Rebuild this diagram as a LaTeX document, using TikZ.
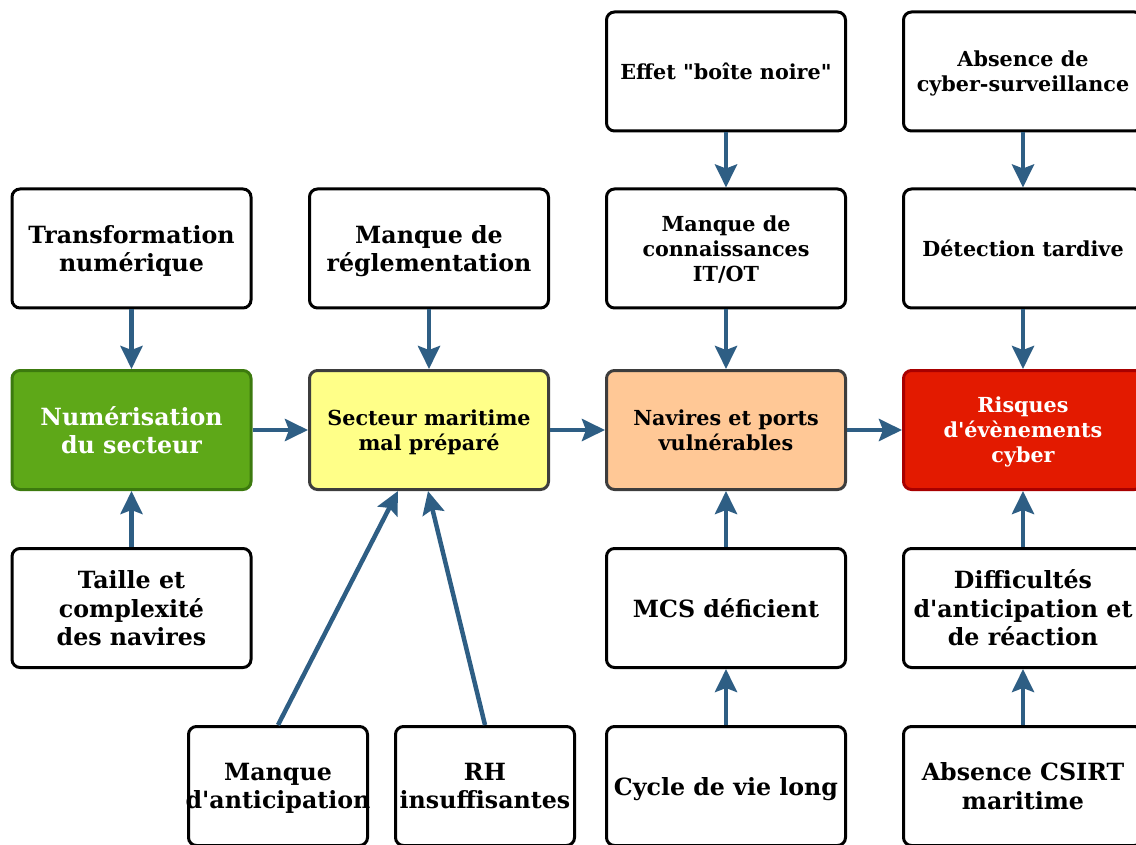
\documentclass[tikz,border=0pt]{standalone}
\usepackage{fontspec}
% TeX ligatures off: straight quotes and apostrophes stay straight
\setmainfont{DejaVu Serif}[Ligatures=TeXOff]
\usetikzlibrary{arrows.meta}

\definecolor{arrowblue}{HTML}{2E5E84}
\definecolor{greenfill}{HTML}{5EA818}
\definecolor{greenline}{HTML}{3C7A0E}
\definecolor{yellowfill}{HTML}{FFFF88}
\definecolor{peachfill}{HTML}{FFC896}
\definecolor{darkline}{HTML}{3D3D3D}
\definecolor{redfill}{HTML}{E31A00}
\definecolor{redline}{HTML}{A80000}

\newcommand{\bigtxt}{\fontsize{23.7}{28.5}\selectfont\bfseries}
\newcommand{\smalltxt}{\fontsize{20.7}{25}\selectfont\bfseries}

\tikzset{
  box/.style={draw=black, fill=white, line width=3pt, rounded corners=8pt,
    minimum width=239pt, minimum height=119pt, align=center, inner sep=0pt,
    text depth=0pt, text=black},
  narrowbox/.style={box, minimum width=179pt},
  bigtext/.style={font=\bigtxt},
  smalltext/.style={font=\smalltxt},
  greenbox/.style={box, fill=greenfill, draw=greenline, text=white},
  yellowbox/.style={box, fill=yellowfill, draw=darkline},
  peachbox/.style={box, fill=peachfill, draw=darkline},
  redbox/.style={box, fill=redfill, draw=redline, text=white},
  flow/.style={draw=arrowblue, line width=4.5pt,
    -{Stealth[length=23pt, width=22pt, inset=4pt]}},
}

\begin{document}
\begin{tikzpicture}[x=1pt, y=-1pt]
  \useasboundingbox (0,0) rectangle (1136,845);

  % main chain
  \node[greenbox, bigtext]    (num) at (131.5,430) {Numérisation\\du secteur};
  \node[yellowbox, smalltext] (sec) at (429,430)   {Secteur maritime\\mal préparé};
  \node[peachbox, smalltext]  (nav) at (726,430)   {Navires et ports\\vulnérables};
  \node[redbox, smalltext]    (ris) at (1023,430)  {Risques\\d'évènements\\cyber};

  % column 1
  \node[box, bigtext] (tra) at (131.5,248.5) {Transformation\\numérique};
  \node[box, bigtext] (tai) at (131.5,608)   {Taille et\\complexité\\des navires};

  % column 2 (the long word spills over both sides of its narrow box)
  \node[box, bigtext]       (reg) at (429,248.5) {Manque de\\réglementation};
  \node[narrowbox, bigtext] (ant) at (278,786)   {Manque\\\makebox[170pt]{d'anticipation}};
  \node[narrowbox, bigtext] (rh)  at (485,786)   {RH\\insuffisantes};

  % column 3
  \node[box, smalltext] (eff) at (726,71.5)  {Effet "boîte noire"};
  \node[box, smalltext] (con) at (726,248.5) {Manque de\\connaissances\\IT/OT};
  \node[box, bigtext]   (mcs) at (726,608)   {MCS déficient};
  \node[box, bigtext]   (cyc) at (726,786)   {Cycle de vie long};

  % column 4
  \node[box, smalltext] (abs) at (1023,71.5)  {Absence de\\cyber-surveillance};
  \node[box, smalltext] (det) at (1023,248.5) {Détection tardive};
  \node[box, bigtext]   (dif) at (1023,608)   {Difficultés\\d'anticipation et\\de réaction};
  \node[box, bigtext]   (csi) at (1023,786)   {Absence CSIRT\\maritime};

  % landing points of the two slanted arrows
  \coordinate (secL) at ([xshift=-31pt]sec.south);
  \coordinate (secR) at ([xshift=-1pt]sec.south);

  % connectors
  \draw[flow] (num) -- (sec);
  \draw[flow] (sec) -- (nav);
  \draw[flow] (nav) -- (ris);

  \draw[flow] (tra) -- (num);
  \draw[flow] (tai) -- (num);

  \draw[flow] (reg) -- (sec);
  \draw[flow] (ant.north) -- (secL);
  \draw[flow] (rh.north) -- (secR);

  \draw[flow] (eff) -- (con);
  \draw[flow] (con) -- (nav);
  \draw[flow] (mcs) -- (nav);
  \draw[flow] (cyc) -- (mcs);

  \draw[flow] (abs) -- (det);
  \draw[flow] (det) -- (ris);
  \draw[flow] (dif) -- (ris);
  \draw[flow] (csi) -- (dif);
\end{tikzpicture}
\end{document}
